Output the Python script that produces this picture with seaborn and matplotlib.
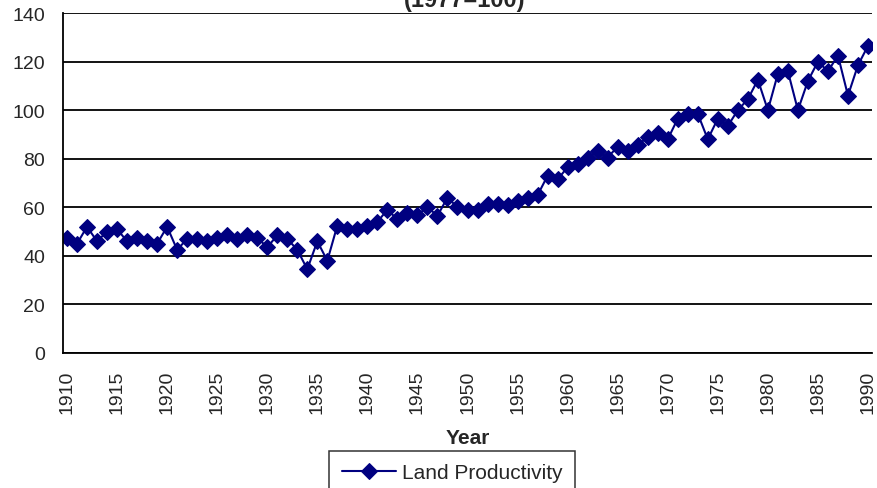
import numpy as np
import pandas as pd
import matplotlib
matplotlib.use("Agg")
import matplotlib.pyplot as plt
import seaborn as sns

# data (index, 1977=100)
years = list(range(1910, 1991))
land_productivity = [
    47.5, 45, 52, 46, 50, 51, 46, 47.5, 46, 45,
    52, 42.5, 47, 47, 46, 47.5, 48.5, 47, 48.5, 47.5,
    43.5, 48.5, 47, 42.5, 34.5, 46, 38, 52.5, 51, 51,
    52.5, 54, 59, 55, 57.5, 57, 60, 56.5, 64, 60,
    59, 59, 61.5, 61.5, 61, 62.5, 64, 65, 73, 71.5,
    76.5, 78, 80.5, 83, 80.5, 85, 83, 85.5, 89, 90.5,
    88, 96.5, 98.5, 98.5, 88, 96.5, 93.5, 100, 104.5, 112.5,
    100, 115, 116, 100, 112, 120, 116, 122.5, 106, 118.5,
    126.5,
]
xtick_years = list(range(1910, 1991, 5))
ytick_vals = list(range(0, 141, 20))

df = pd.DataFrame({"Year": years, "Land Productivity": land_productivity})

sns.set_style("white")
plt.rcParams["font.family"] = ["Liberation Sans", "DejaVu Sans"]

fig = plt.figure(figsize=(8.77, 4.89), dpi=100)
ax = fig.add_axes([63 / 877, 1 - 354 / 489, (872 - 63) / 877, (354 - 14) / 489])

navy = "#000080"
sns.lineplot(data=df, x="Year", y="Land Productivity", ax=ax, color=navy,
             marker="D", markersize=8, markeredgecolor=navy, linewidth=1.5,
             label="Land Productivity", legend=False)

ax.set_xlim(1909.6, 1990.4)
ax.set_ylim(0, 140)
ax.set_yticks(ytick_vals)
ax.set_xticks(xtick_years)
ax.set_xticklabels([str(y) for y in xtick_years], rotation=90)
ax.yaxis.grid(True, color="black", linewidth=1.3)
ax.set_axisbelow(True)

for side in ["top", "right"]:
    ax.spines[side].set_visible(False)
for side in ["left", "bottom"]:
    ax.spines[side].set_color("black")
    ax.spines[side].set_linewidth(1.3)

ax.tick_params(axis="y", direction="out", length=5, width=1.3, color="black",
               labelsize=14, pad=8)
ax.tick_params(axis="x", length=0, labelsize=14, pad=12)

ax.set_ylabel("")
ax.set_xlabel("Year", fontsize=15, fontweight="bold", labelpad=11)

# title runs off the top edge, as in the source chart
fig.text(465 / 877, 1 - 7 / 489, "(1977=100)", ha="center", va="baseline",
         fontsize=17, fontweight="bold")

handles, labels = ax.get_legend_handles_labels()
leg = fig.legend(handles, labels, loc="upper left",
                 bbox_to_anchor=(329 / 877, 1 - 452 / 489), borderaxespad=0,
                 fontsize=15, frameon=True, fancybox=False, handlelength=2.6,
                 handletextpad=0.3, borderpad=0.6)
leg.get_frame().set_edgecolor("black")
leg.get_frame().set_linewidth(1.1)

fig.savefig("out.png", dpi=100)
